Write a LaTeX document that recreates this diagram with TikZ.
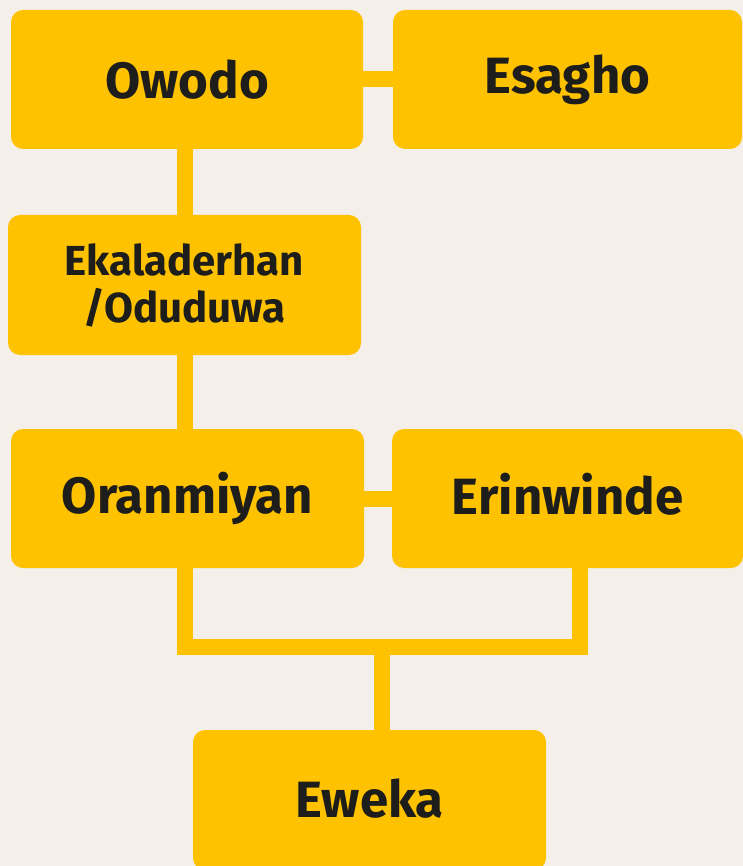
\documentclass[tikz,border=0pt]{standalone}
\usepackage{fontspec}
\setmainfont{Fira Sans}
\usetikzlibrary{backgrounds}
\definecolor{gold}{HTML}{FFC200}
\definecolor{paper}{HTML}{F4EFE9}
\definecolor{ink}{HTML}{1D1D1B}
\tikzset{
  person/.style={fill=gold, draw=none, rounded corners=12pt, inner sep=0pt,
    align=center, text=ink, font=\bfseries\fontsize{51}{56}\selectfont},
  small/.style={font=\bfseries\fontsize{42}{47}\selectfont},
  link/.style={draw=gold, line width=16pt, line join=miter, line cap=butt}
}
\begin{document}
\begin{tikzpicture}[x=1pt, y=-1pt]
  \useasboundingbox (0,0) rectangle (743,866);

  % family members
  \node[person, minimum width=352pt, minimum height=139pt] (owodo) at (187,79.5) {Owodo};
  \node[person, minimum width=349pt, minimum height=139pt] (esagho) at (567.5,79.5) {Esagho};
  \node[person, small, minimum width=353pt, minimum height=140pt] (ekal) at (184.5,285) {Ekaladerhan\\/Oduduwa};
  \node[person, minimum width=353pt, minimum height=139pt] (oran) at (187.5,498.5) {Oranmiyan};
  \node[person, text depth=10pt, minimum width=351pt, minimum height=139pt] (erin) at (567.5,498.5) {Erinwinde};
  \node[person, text depth=4pt, minimum width=353pt, minimum height=140pt] (eweka) at (369.5,800) {Eweka};

  \coordinate (join) at (382,646.5);
  \coordinate (oranleg) at (184.5,568);
  \coordinate (erinleg) at (580,568);

  \begin{scope}[on background layer]
    \fill[paper] (0,0) rectangle (743,866);
    % marriages
    \draw[link] (owodo) -- (esagho);
    \draw[link] (oran) -- (erin);
    % descent
    \draw[link] (owodo.south -| ekal) -- (ekal);
    \draw[link] (ekal) -- (ekal |- oran.north);
    \draw[link] (oranleg) -- (oranleg |- join) -- (erinleg |- join) -- (erinleg);
    \draw[link] (join) -- (join |- eweka.north);
  \end{scope}
\end{tikzpicture}
\end{document}
